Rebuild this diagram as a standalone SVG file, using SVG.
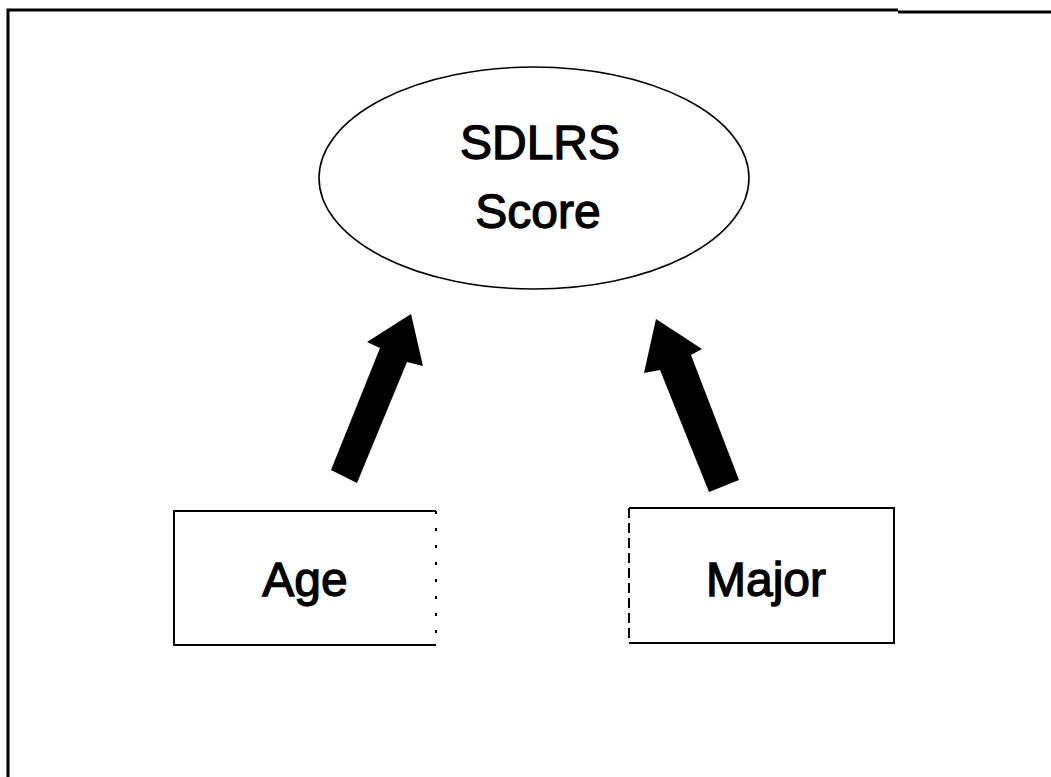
<svg xmlns="http://www.w3.org/2000/svg" width="1051" height="777" viewBox="0 0 1051 777">
<style>
  .lbl { font-family: "Liberation Sans", Arial, sans-serif; font-size: 48px; fill: #000; stroke: #000; stroke-width: 1.3; text-anchor: middle; }
  .box { fill: none; stroke: #000; stroke-width: 2; }
  .frame { fill: none; stroke: #000; stroke-width: 3; }
  .arrow { fill: #000; stroke: none; }
</style>
<rect x="0" y="0" width="1051" height="777" fill="#fff"/>
<g id="frame">
  <path class="frame" d="M8 777 L8 10 L898 10"/>
  <path class="frame" d="M898 12 L1051 12" stroke-width="1.5"/>
</g>
<g id="node-sdlrs">
  <ellipse cx="534" cy="178" rx="215" ry="111" fill="none" stroke="#000" stroke-width="1.6"/>
  <text class="lbl" x="540" y="159">SDLRS</text>
  <text class="lbl" x="538" y="228">Score</text>
</g>
<g id="node-age">
  <path class="box" d="M436 511 L174 511 L174 645 L436 645"/>
  <path class="box" d="M436 511 L436 645" stroke-width="1" stroke-dasharray="3 14"/>
  <text class="lbl" x="305" y="596">Age</text>
</g>
<g id="node-major">
  <path class="box" d="M629 508 L894 508 L894 643 L629 643"/>
  <path class="box" d="M629 508 L629 643" stroke-width="1.2" stroke-dasharray="10 5"/>
  <text class="lbl" x="766" y="596">Major</text>
</g>
<g id="connectors">
  <polygon class="arrow" points="411,314 423,366 407,362 357,483 331,470 380,348 367,342"/>
  <polygon class="arrow" points="656,319 702,349 691,355 739,480 709,492 660,370 644,373"/>
</g>
</svg>
